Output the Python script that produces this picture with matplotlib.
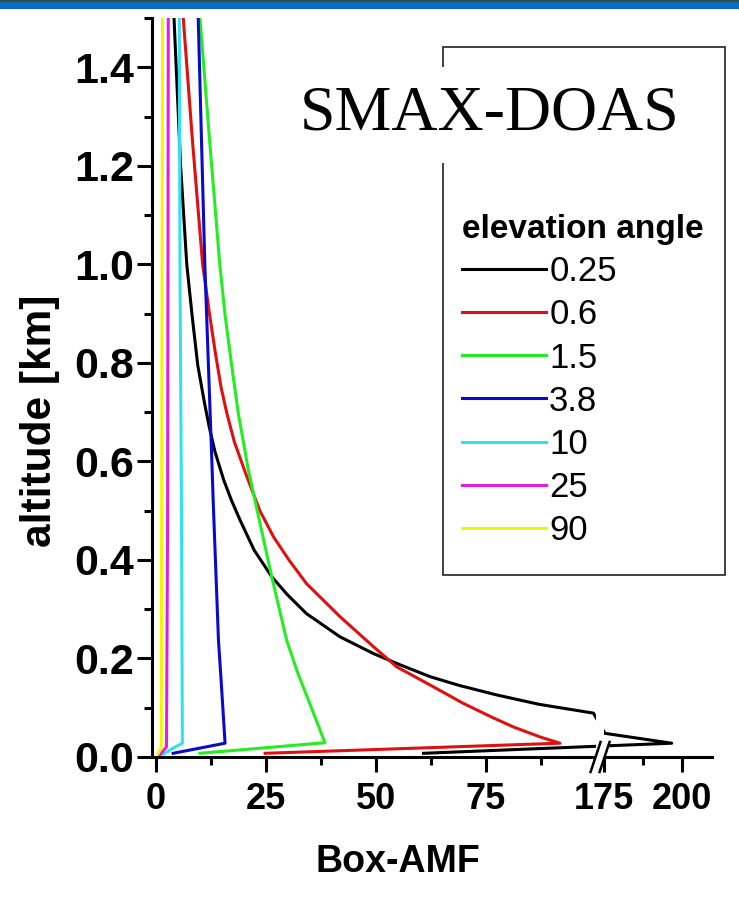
import numpy as np
import matplotlib
matplotlib.use("Agg")
import matplotlib.pyplot as plt
from matplotlib.patches import Rectangle, Polygon
from matplotlib.ticker import FixedLocator, NullFormatter

plt.rcParams['font.family'] = ['Liberation Sans', 'DejaVu Sans']

# Box-AMF profiles: altitude [km] and Box-AMF per elevation angle
angles = ['0.25', '0.6', '1.5', '3.8', '10', '25', '90']
colors = ['#000000', '#e01010', '#22ee22', '#0a0acc', '#33e0f0', '#e020e0', '#f5f500']

alt_025 = [0.0075, 0.028, 0.048, 0.089, 0.107, 0.126, 0.145, 0.163, 0.187, 0.21, 0.244, 0.291,
           0.33, 0.366, 0.42, 0.481, 0.52, 0.562, 0.62, 0.67, 0.72, 0.795, 0.897, 1.0, 1.2, 1.5]
amf_025 = [60.8, 196.7, 175.3, 99.4, 87.0, 77.4, 69.0, 62.3, 55.5, 49.4, 41.8, 34.2,
           29.8, 26.3, 22.3, 19.1, 17.2, 15.4, 13.4, 12.1, 11.0, 9.5, 8.2, 7.0, 5.6, 4.1]

alt_06 = [0.0075, 0.028, 0.04, 0.061, 0.08, 0.109, 0.15, 0.183, 0.224, 0.285, 0.352, 0.4, 0.447,
          0.5, 0.575, 0.64, 0.698, 0.75, 0.82, 0.897, 1.0, 1.25, 1.5]
amf_06 = [24.8, 91.8, 87.5, 81.2, 76.5, 69.8, 61.5, 54.7, 49.4, 41.8, 34.2, 30.2, 26.7,
          23.6, 20.4, 17.8, 16.1, 14.8, 13.5, 12.2, 10.6, 8.3, 6.2]

alt_15 = [0.0075, 0.029, 0.176, 0.237, 0.366, 0.48, 0.582, 0.698, 0.795, 0.897, 1.0, 1.25, 1.5]
amf_15 = [10.0, 38.4, 32.0, 29.7, 26.3, 23.5, 21.0, 18.7, 17.2, 15.7, 14.5, 12.2, 10.0]

alt_38 = [0.0075, 0.028, 0.156, 0.237, 0.52, 0.6, 0.7, 0.8, 0.9, 1.0, 1.5]
amf_38 = [3.9, 15.7, 14.8, 14.2, 13.0, 12.7, 12.3, 11.9, 11.5, 11.1, 9.6]

alt_10 = [0.006, 0.018, 0.028, 0.5, 1.0, 1.5]
amf_10 = [1.7, 3.9, 6.0, 5.8, 5.45, 5.3]

alt_25 = [0.004, 0.021, 0.5, 1.5]
amf_25 = [0.9, 2.4, 2.65, 2.8]

alt_90 = [0.0075, 0.02, 0.5, 1.5]
amf_90 = [0.5, 1.2, 1.3, 1.5]

profiles = [(amf_025, alt_025), (amf_06, alt_06), (amf_15, alt_15), (amf_38, alt_38),
            (amf_10, alt_10), (amf_25, alt_25), (amf_90, alt_90)]

x_major = [0, 25, 50, 75, 175, 200]
x_minor = [12.5, 37.5, 62.5, 87.5, 187.5]
y_major = [0.0, 0.2, 0.4, 0.6, 0.8, 1.0, 1.2, 1.4]
y_minor = [0.1, 0.3, 0.5, 0.7, 0.9, 1.1, 1.3, 1.5]

# broken x axis: 100..175 squeezed into a small gap, right part on a tighter scale
GAP_LO, GAP_HI = 100.0, 175.0
GAP_W = 1.8
K = 0.709


def fwd(v):
    v = np.asarray(v, dtype=float)
    return np.where(v <= GAP_LO, v,
                    np.where(v >= GAP_HI, GAP_LO + GAP_W + (v - GAP_HI) * K,
                             GAP_LO + (v - GAP_LO) * GAP_W / (GAP_HI - GAP_LO)))


def inv(u):
    u = np.asarray(u, dtype=float)
    return np.where(u <= GAP_LO, u,
                    np.where(u >= GAP_LO + GAP_W, GAP_HI + (u - GAP_LO - GAP_W) / K,
                             GAP_LO + (u - GAP_LO) * (GAP_HI - GAP_LO) / GAP_W))


W, H = 739, 902
fig = plt.figure(figsize=(W / 100, H / 100), dpi=100)
ax = fig.add_axes([152 / W, (H - 757) / H, (712 - 152) / W, (757 - 18) / H])
ax.set_xscale('function', functions=(fwd, inv))

for (amf, alt), c, lab in zip(profiles, colors, angles):
    ax.plot(amf, alt, color=c, lw=2.2, label=lab)

XMIN, XMAX = -0.9, 209.6
ax.set_xlim(XMIN, XMAX)
ax.set_ylim(0, 1.5)

for s in ['top', 'right']:
    ax.spines[s].set_visible(False)
for s in ['left', 'bottom']:
    ax.spines[s].set_linewidth(2.2)

ax.xaxis.set_major_locator(FixedLocator(x_major))
ax.xaxis.set_minor_locator(FixedLocator(x_minor))
ax.xaxis.set_minor_formatter(NullFormatter())
ax.set_xticklabels([str(v) for v in x_major])
ax.yaxis.set_major_locator(FixedLocator(y_major))
ax.yaxis.set_minor_locator(FixedLocator(y_minor))
ax.set_yticklabels([f'{v:.1f}' for v in y_major])
ax.tick_params(which='major', length=11, width=2.2, direction='out')
ax.tick_params(which='minor', length=6, width=2.2, direction='out')
ax.tick_params(axis='x', which='major', pad=7)
ax.tick_params(axis='y', which='major', pad=2)
for t in ax.get_xticklabels():
    t.set_fontweight('bold')
    t.set_fontsize(26)
for t in ax.get_yticklabels():
    t.set_fontweight('bold')
    t.set_fontsize(31)

ax.set_xlabel('Box-AMF', fontsize=27, fontweight='bold')
ax.xaxis.set_label_coords((398 - 152) / 560, -(862 - 757) / 739)
ax.xaxis.label.set_va('center')
ax.set_ylabel('altitude [km]', fontsize=30.5, fontweight='bold')
ax.yaxis.set_label_coords(-(152 - 40) / 560, (757 - 421) / 739)
ax.yaxis.label.set_va('center')

# hide the lines inside the gap and draw the break marks
ax.axvspan(GAP_LO, GAP_HI, color='white', zorder=2.4, lw=0)
span = float(fwd(XMAX) - fwd(XMIN))
cx = float(fwd((GAP_LO + GAP_HI) / 2) - fwd(XMIN)) / span
dx = 5.0 / 560
dy = 15.0 / 739
off = 4.5 / 560
ax.add_patch(Polygon([[cx - off - dx, -dy], [cx + off - dx, -dy], [cx + off + dx, dy], [cx - off + dx, dy]],
                     closed=True, transform=ax.transAxes, color='white', clip_on=False, zorder=3))
for o in (-off, off):
    ax.plot([cx + o - dx, cx + o + dx], [-dy, dy], color='black', lw=1.8,
            transform=ax.transAxes, clip_on=False, zorder=4)

# legend frame and legend
fig.patches.append(Rectangle((443 / W, 1 - 575 / H), (725 - 443) / W, (575 - 47) / H,
                             transform=fig.transFigure, facecolor='none', edgecolor='#333333', lw=1.3))
leg = fig.legend(loc='upper left', bbox_to_anchor=(445 / W, 1 - 197 / H), frameon=False,
                 title='elevation angle', alignment='left', fontsize=25,
                 handlelength=2.4, handletextpad=0.1, labelspacing=0.29, borderpad=0)
leg.get_title().set_fontweight('bold')
leg.get_title().set_fontsize(24)
for h in leg.get_lines():
    h.set_linewidth(2.2)

fig.text(490 / W, 1 - 115 / H, 'SMAX-DOAS', family='Liberation Serif', fontsize=46,
         ha='center', va='center',
         bbox=dict(facecolor='white', edgecolor='none', pad=14))

# blue banner strip at the top edge
fig.patches.append(Rectangle((0, 1 - 9 / H), 1, 9 / H, transform=fig.transFigure,
                             facecolor='#0a6ebd', edgecolor='none'))
fig.patches.append(Rectangle((0, 1 - 2 / H), 1, 2 / H, transform=fig.transFigure,
                             facecolor='#2f4f45', edgecolor='none'))

fig.savefig('out.png', dpi=100)
